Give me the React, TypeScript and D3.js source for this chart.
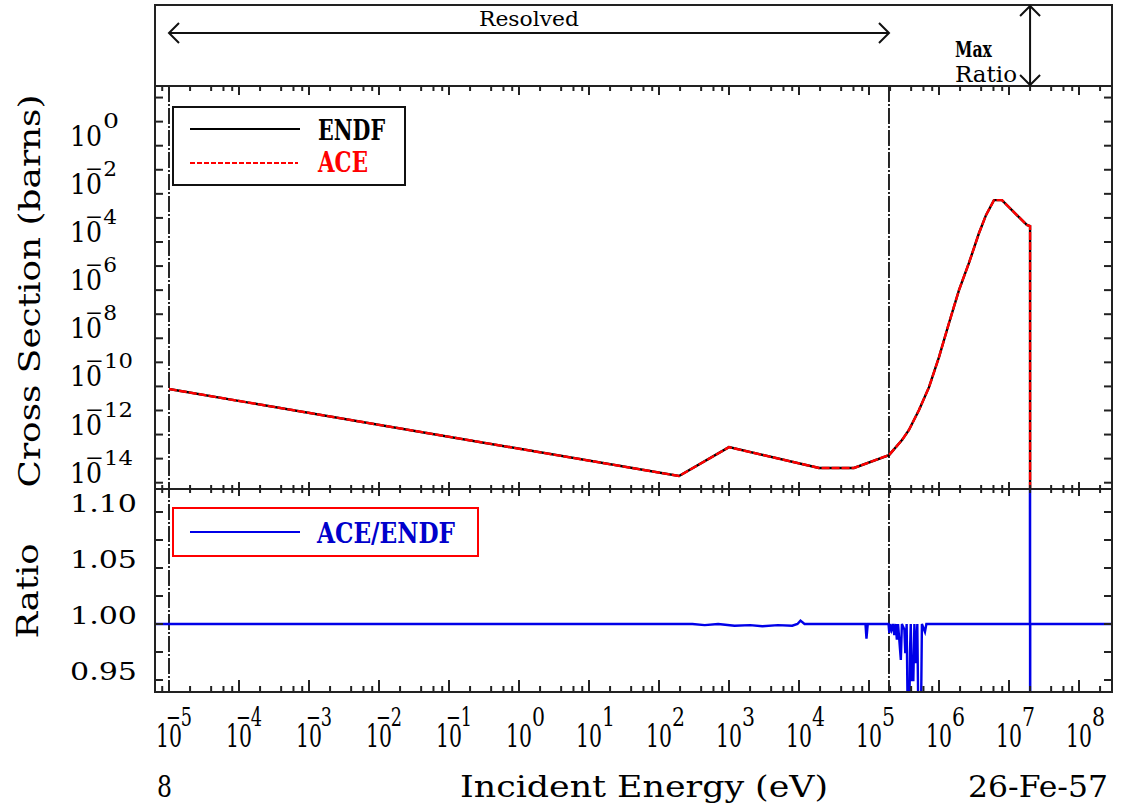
import React, { useEffect, useRef } from "react";
import * as d3 from "d3";

// ENDF cross section (eV, barns)
const xsEnergy = [1e-5, 193, 1000, 1.93e4, 6.1e4, 1.93e5, 2.96e5, 3.72e5, 5.18e5, 7.2e5, 1e6, 1.39e6, 1.93e6, 2.68e6, 3.72e6, 4.69e6, 6.1e6, 7.94e6, 1.1e7, 1.8e7, 2e7, 2e7];
const endfValue = [7.8e-11, 1.9e-14, 3.0e-13, 4.1e-14, 4.1e-14, 1.4e-13, 5.9e-13, 1.55e-12, 1.05e-11, 9.3e-11, 1.66e-9, 4.3e-8, 1.0e-6, 1.35e-5, 2.3e-4, 1.3e-3, 5.5e-3, 5.5e-3, 2.1e-3, 5.1e-4, 4.6e-4, 1e-20];
// ACE lies on top of ENDF everywhere
const aceValue = [7.8e-11, 1.9e-14, 3.0e-13, 4.1e-14, 4.1e-14, 1.4e-13, 5.9e-13, 1.55e-12, 1.05e-11, 9.3e-11, 1.66e-9, 4.3e-8, 1.0e-6, 1.35e-5, 2.3e-4, 1.3e-3, 5.5e-3, 5.5e-3, 2.1e-3, 5.1e-4, 4.6e-4, 1e-20];

// ACE/ENDF ratio
const ratioEnergy = [
  6e-6, 1e-5, 300, 450, 700, 1200, 2000, 3000, 5000, 8000, 9500, 1.05e4, 1.2e4,
  8.9e4, 9.2e4, 9.6e4,
  1.9e5, 1.95e5, 2.0e5, 2.1e5, 2.2e5, 2.3e5, 2.4e5, 2.5e5, 2.6e5, 2.85e5, 2.95e5, 3.2e5, 3.3e5, 3.45e5,
  3.6e5, 3.75e5, 3.85e5, 3.95e5, 4.1e5, 4.3e5, 4.45e5, 4.7e5, 4.9e5, 5.1e5, 5.5e5, 5.7e5, 6.3e5, 6.6e5,
  1.99e7, 2.0e7, 2.0e7, 2.01e7, 3e8,
];
const ratioValue = [
  1, 1, 1, 0.999, 1, 0.9985, 0.999, 0.998, 0.999, 0.9985, 1, 1.003, 1,
  1, 0.987, 1,
  1, 0.992, 1, 0.995, 1, 0.99, 1, 0.986, 1, 0.968, 1, 0.995, 0.974, 1,
  0.9, 0.9, 0.975, 1, 0.95, 0.95, 1, 0.965, 1, 0.9, 0.9, 1, 0.993, 1,
  1, 2, 0, 1, 1,
];

const xExponents = d3.range(-5, 9);
const yExponents = [0, -2, -4, -6, -8, -10, -12, -14];
const ratioTicks = ["0.95", "1.00", "1.05", "1.10"];
const resolvedRange = [1e-5, 1.93e5];
const maxEnergy = 2e7;

const FONT = "'DejaVu Serif', 'Liberation Serif', serif";

const App = () => {
  const ref = useRef(null);

  useEffect(() => {
    document.body.style.margin = "0";
    const svg = d3.select(ref.current);
    svg.selectAll("*").remove();

    const left = 155, right = 1112;
    const top = 5, split1 = 86, split2 = 489, bottom = 692;

    const x = d3.scaleLog().domain([1e-5, 1e8]).range([169, 1079]);
    const y = d3.scaleLog().domain([1e-14, 1]).range([482.7, 145.7]);
    const yr = d3.scaleLinear().domain([0.95, 1.1]).range([680, 512]);

    const defs = svg.append("defs");
    defs.append("clipPath").attr("id", "clip-xs")
      .append("rect").attr("x", left).attr("y", split1).attr("width", right - left).attr("height", split2 - split1);
    defs.append("clipPath").attr("id", "clip-ratio")
      .append("rect").attr("x", left).attr("y", split2).attr("width", right - left).attr("height", bottom - split2);

    // vertical dash-dot markers for the resolved range
    resolvedRange.forEach(e => {
      svg.append("line")
        .attr("x1", x(e)).attr("x2", x(e))
        .attr("y1", split1).attr("y2", bottom)
        .attr("stroke", "#111").attr("stroke-width", 1.8)
        .attr("stroke-dasharray", "16,2,2,2");
    });

    // cross section curves
    const xsLine = d3.line<number>()
      .x((_, i) => x(xsEnergy[i]))
      .y(d => y(d));
    svg.append("path")
      .datum(endfValue)
      .attr("clip-path", "url(#clip-xs)")
      .attr("fill", "none").attr("stroke", "#000").attr("stroke-width", 2.4)
      .attr("d", xsLine);
    svg.append("path")
      .datum(aceValue)
      .attr("clip-path", "url(#clip-xs)")
      .attr("fill", "none").attr("stroke", "#ff0000").attr("stroke-width", 2.4)
      .attr("stroke-dasharray", "8,2")
      .attr("d", xsLine);

    // ratio curve
    const ratioLine = d3.line<number>()
      .x((_, i) => x(ratioEnergy[i]))
      .y(d => yr(d));
    svg.append("path")
      .datum(ratioValue)
      .attr("clip-path", "url(#clip-ratio)")
      .attr("fill", "none").attr("stroke", "#0000e8").attr("stroke-width", 2.4)
      .attr("d", ratioLine);

    // frame
    svg.append("rect")
      .attr("x", left).attr("y", top)
      .attr("width", right - left).attr("height", bottom - top)
      .attr("fill", "none").attr("stroke", "#222").attr("stroke-width", 2);
    [split1, split2].forEach(yy => {
      svg.append("line").attr("x1", left).attr("x2", right).attr("y1", yy).attr("y2", yy)
        .attr("stroke", "#222").attr("stroke-width", 2);
    });

    // x ticks: decades + 2,4,6,8
    const majors = xExponents.map(k => Math.pow(10, k));
    const minors = [];
    d3.range(-6, 9).forEach(k => [2, 4, 6, 8].forEach(m => {
      const e = m * Math.pow(10, k);
      if (x(e) > left + 2 && x(e) < right - 2) minors.push(e);
    }));
    const xTicks = (yy, up, down, upMinor, downMinor) => {
      majors.forEach(e => {
        svg.append("line").attr("x1", x(e)).attr("x2", x(e))
          .attr("y1", yy - up).attr("y2", yy + down)
          .attr("stroke", "#222").attr("stroke-width", 2);
      });
      minors.forEach(e => {
        svg.append("line").attr("x1", x(e)).attr("x2", x(e))
          .attr("y1", yy - upMinor).attr("y2", yy + downMinor)
          .attr("stroke", "#222").attr("stroke-width", 2);
      });
    };
    xTicks(split1, 0, 9, 0, 5);
    xTicks(split2, 7, 7, 4, 4);
    xTicks(bottom, 12, 0, 6, 0);

    // y ticks
    const yTick = (yy) => {
      svg.append("line").attr("x1", left).attr("x2", left + 8).attr("y1", yy).attr("y2", yy)
        .attr("stroke", "#222").attr("stroke-width", 2);
      svg.append("line").attr("x1", right - 8).attr("x2", right).attr("y1", yy).attr("y2", yy)
        .attr("stroke", "#222").attr("stroke-width", 2);
    };
    d3.range(-14, 3).forEach(k => yTick(y(Math.pow(10, k))));
    d3.range(0.95, 1.1001, 0.025).forEach(v => yTick(yr(v)));

    const text = (tx, ty, s, size, opts = {}) => {
      const t = svg.append("text")
        .attr("x", tx).attr("y", ty)
        .attr("font-family", FONT)
        .attr("font-size", size)
        .attr("fill", opts.fill || "#000")
        .attr("text-anchor", opts.anchor || "start")
        .attr("font-weight", opts.bold ? "bold" : "normal")
        .text(s);
      if (opts.len) t.attr("textLength", opts.len).attr("lengthAdjust", "spacingAndGlyphs");
      if (opts.rotate) t.attr("transform", `rotate(-90, ${tx}, ${ty})`);
      return t;
    };

    // "10" with a raised exponent, as one text element
    const powerLabel = (bx, by, k, size, len, ex, ey, eSize, eCharW) => {
      const t = svg.append("text")
        .attr("x", bx).attr("y", by)
        .attr("font-family", FONT).attr("font-size", size).attr("fill", "#000");
      t.append("tspan").attr("textLength", len).attr("lengthAdjust", "spacingAndGlyphs").text("10");
      const s = k < 0 ? "\u2212" + Math.abs(k) : String(k);
      t.append("tspan")
        .attr("x", k < 0 ? ex - eCharW : ex).attr("y", ey)
        .attr("font-size", eSize)
        .attr("textLength", s.length * eCharW).attr("lengthAdjust", "spacingAndGlyphs")
        .text(s);
    };

    // y tick labels (cross section)
    yExponents.forEach(k => {
      const yy = y(Math.pow(10, k));
      powerLabel(70, yy, k, 27, 32, k < 0 ? 101 : 103, yy - 18, 21, 16);
    });

    // ratio tick labels
    ratioTicks.forEach(s => {
      text(70, yr(+s), s, 25, { len: 67 });
    });

    // x tick labels
    xExponents.forEach(k => {
      const xx = x(Math.pow(10, k));
      powerLabel(xx - 13, 747, k, 31, 26, k < 0 ? xx + 10 : xx + 13, 726, 26, 13);
    });

    // axis titles
    text(644, 797, "Incident Energy (eV)", 30, { anchor: "middle", len: 368 });
    text(157, 797, "8", 30, { len: 15 });
    text(1108, 797, "26-Fe-57", 30, { anchor: "end", len: 140 });
    text(40, 291, "Cross Section (barns)", 30, { anchor: "middle", rotate: true, len: 393 });
    text(38, 591, "Ratio", 30, { anchor: "middle", rotate: true, len: 95 });

    // top panel annotations
    const arrowY = 33;
    const xa = x(resolvedRange[0]), xb = x(resolvedRange[1]);
    const head = 10;
    svg.append("path")
      .attr("d", `M${xa},${arrowY}H${xb}M${xa + head},${arrowY - head}L${xa},${arrowY}L${xa + head},${arrowY + head}` +
        `M${xb - head},${arrowY - head}L${xb},${arrowY}L${xb - head},${arrowY + head}`)
      .attr("fill", "none").attr("stroke", "#111").attr("stroke-width", 2);
    text((xa + xb) / 2, 26, "Resolved", 21, { anchor: "middle", len: 100 });

    const xm = x(maxEnergy);
    svg.append("path")
      .attr("d", `M${xm},${top + 1}V${split1 - 1}M${xm - head},${top + head + 1}L${xm},${top + 1}L${xm + head},${top + head + 1}` +
        `M${xm - head},${split1 - head - 1}L${xm},${split1 - 1}L${xm + head},${split1 - head - 1}`)
      .attr("fill", "none").attr("stroke", "#111").attr("stroke-width", 2);
    text(955, 57, "Max", 23, { bold: true, len: 37 });
    text(955, 82, "Ratio", 23, { len: 62 });

    // cross section legend
    svg.append("rect").attr("x", 173).attr("y", 107).attr("width", 232).attr("height", 78)
      .attr("fill", "#fff").attr("stroke", "#111").attr("stroke-width", 2);
    svg.append("line").attr("x1", 190).attr("x2", 300).attr("y1", 129).attr("y2", 129)
      .attr("stroke", "#000").attr("stroke-width", 2);
    svg.append("line").attr("x1", 190).attr("x2", 298).attr("y1", 163).attr("y2", 163)
      .attr("stroke", "#ff0000").attr("stroke-width", 2).attr("stroke-dasharray", "5,2");
    text(318, 140, "ENDF", 27, { bold: true, len: 67 });
    text(318, 172, "ACE", 27, { bold: true, fill: "#ff0000", len: 50 });

    // ratio legend
    svg.append("rect").attr("x", 173).attr("y", 508).attr("width", 305).attr("height", 48)
      .attr("fill", "#fff").attr("stroke", "#ff0000").attr("stroke-width", 2);
    svg.append("line").attr("x1", 190).attr("x2", 300).attr("y1", 532).attr("y2", 532)
      .attr("stroke", "#0000e8").attr("stroke-width", 2);
    text(317, 543, "ACE/ENDF", 27, { bold: true, fill: "#0000cc", len: 138 });
  }, []);

  return <svg ref={ref} width={1122} height={809} style={{ display: "block", background: "#fff" }} />;
};

export default App;
